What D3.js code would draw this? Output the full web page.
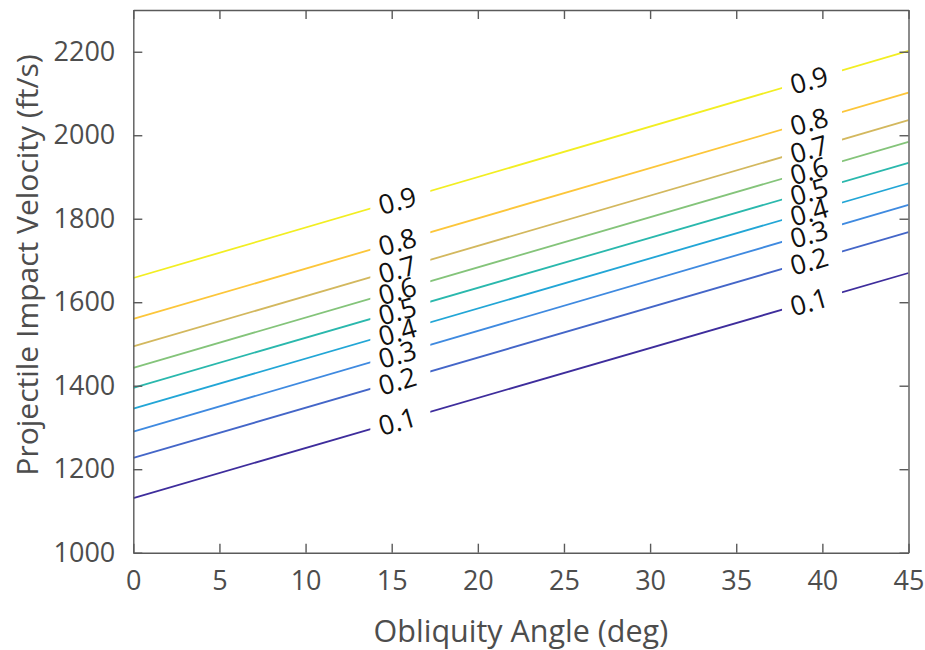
<!DOCTYPE html>
<html>
<head>
<meta charset="utf-8">
<script src="https://cdn.jsdelivr.net/npm/d3@7"></script>
<style>
  html, body { margin: 0; padding: 0; background: #fff; }
  svg { display: block; }
</style>
</head>
<body>
<svg id="chart" width="925" height="650"></svg>
<script>
// Contour levels and the impact velocity each level reaches at the two ends of the angle range
const levels = [0.1, 0.2, 0.3, 0.4, 0.5, 0.6, 0.7, 0.8, 0.9];
const angleEnds = [0, 45];
const velocityAt0 = [1131, 1227, 1290, 1345, 1395, 1443, 1494, 1560, 1658];
const velocityAt45 = [1670, 1768, 1833, 1885, 1934, 1984, 2036, 2102, 2202];
const levelColors = ["#3e2d9c", "#4466c8", "#3f8ae0", "#22a6d6", "#2ab8ad",
                     "#84c47a", "#d3b85e", "#fcc63a", "#f2ee22"];
const labelAngles = [15.5, 39.4];
const xTicks = [0, 5, 10, 15, 20, 25, 30, 35, 40, 45];
const yTicks = [1000, 1200, 1400, 1600, 1800, 2000, 2200];

const margin = { left: 133.3, right: 925 - 908.5, top: 10, bottom: 650 - 552.7 };
const W = 925, H = 650;
const svg = d3.select("#chart");

const x = d3.scaleLinear().domain([0, 45]).range([margin.left, W - margin.right]);
const y = d3.scaleLinear().domain([1000, 2300]).range([H - margin.bottom, margin.top]);

const axisColor = "#5a5a5a";
const textColor = "#4d4d4d";
const font = "'Open Sans', 'DejaVu Sans', sans-serif";

// Mask that opens gaps in the contour lines where labels sit
const gapHalf = 30;
const defs = svg.append("defs");
const mask = defs.append("mask").attr("id", "labelGaps").attr("maskUnits", "userSpaceOnUse")
  .attr("x", 0).attr("y", 0).attr("width", W).attr("height", H);
mask.append("rect").attr("x", 0).attr("y", 0).attr("width", W).attr("height", H).attr("fill", "#fff");
labelAngles.forEach(a => {
  mask.append("rect")
    .attr("x", x(a) - gapHalf).attr("y", 0)
    .attr("width", gapHalf * 2).attr("height", H)
    .attr("fill", "#000");
});
defs.append("clipPath").attr("id", "plotClip").append("rect")
  .attr("x", x(0)).attr("y", y(2300)).attr("width", x(45) - x(0)).attr("height", y(1000) - y(2300));

const rows = levels.map((lv, i) => ({
  level: lv,
  color: levelColors[i],
  pts: [[angleEnds[0], velocityAt0[i]], [angleEnds[1], velocityAt45[i]]]
}));

const line = d3.line().x(d => x(d[0])).y(d => y(d[1]));

const lineG = svg.append("g").attr("mask", "url(#labelGaps)").attr("clip-path", "url(#plotClip)");
lineG.selectAll("path").data(rows).join("path")
  .attr("d", d => line(d.pts))
  .attr("fill", "none")
  .attr("stroke", d => d.color)
  .attr("stroke-width", 1.8);

// Contour labels, rotated along each line
const labelG = svg.append("g");
rows.forEach(r => {
  const [p0, p1] = r.pts;
  const px0 = x(p0[0]), py0 = y(p0[1]), px1 = x(p1[0]), py1 = y(p1[1]);
  const rot = Math.atan2(py1 - py0, px1 - px0) * 180 / Math.PI;
  labelAngles.forEach(a => {
    const lx = x(a) - 3;
    const t = (lx - px0) / (px1 - px0);
    const ly = py0 + t * (py1 - py0);
    labelG.append("text")
      .attr("transform", `translate(${lx},${ly}) rotate(${rot})`)
      .attr("text-anchor", "middle")
      .attr("dy", "0.36em")
      .attr("font-family", font)
      .attr("font-size", 27)
      .attr("fill", "#111")
      .text(r.level.toFixed(1));
  });
});

// Axes box with inward ticks on all four sides
const tickLen = 9;
const fmt = d3.format("d");
const axG = svg.append("g");
const xAxisB = d3.axisBottom(x).tickValues(xTicks).tickFormat(fmt).tickSizeInner(-tickLen).tickSizeOuter(0).tickPadding(18);
const xAxisT = d3.axisTop(x).tickValues(xTicks).tickSizeInner(-tickLen).tickSizeOuter(0).tickFormat("");
const yAxisL = d3.axisLeft(y).tickValues(yTicks).tickFormat(fmt).tickSizeInner(-tickLen).tickSizeOuter(0).tickPadding(18);
const yAxisR = d3.axisRight(y).tickValues(yTicks).tickSizeInner(-tickLen).tickSizeOuter(0).tickFormat("");

function styleAxis(g) {
  g.select(".domain").attr("stroke", axisColor).attr("stroke-width", 1.4);
  g.selectAll(".tick line").attr("stroke", axisColor).attr("stroke-width", 1.4);
  g.selectAll(".tick text").attr("fill", textColor).attr("font-family", font).attr("font-size", 27);
}

axG.append("g").attr("transform", `translate(0,${y(1000)})`).call(xAxisB).call(styleAxis);
axG.append("g").attr("transform", `translate(0,${y(2300)})`).call(xAxisT).call(styleAxis);
axG.append("g").attr("transform", `translate(${x(0)},0)`).call(yAxisL).call(styleAxis);
axG.append("g").attr("transform", `translate(${x(45)},0)`).call(yAxisR).call(styleAxis);

// Axis titles
svg.append("text")
  .attr("x", (x(0) + x(45)) / 2).attr("y", 642)
  .attr("text-anchor", "middle")
  .attr("font-family", font).attr("font-size", 30.5)
  .attr("fill", textColor)
  .text("Obliquity Angle (deg)");

svg.append("text")
  .attr("transform", `translate(38,${265}) rotate(-90)`)
  .attr("text-anchor", "middle")
  .attr("font-family", font).attr("font-size", 30)
  .attr("fill", textColor)
  .text("Projectile Impact Velocity (ft/s)");
</script>
</body>
</html>
